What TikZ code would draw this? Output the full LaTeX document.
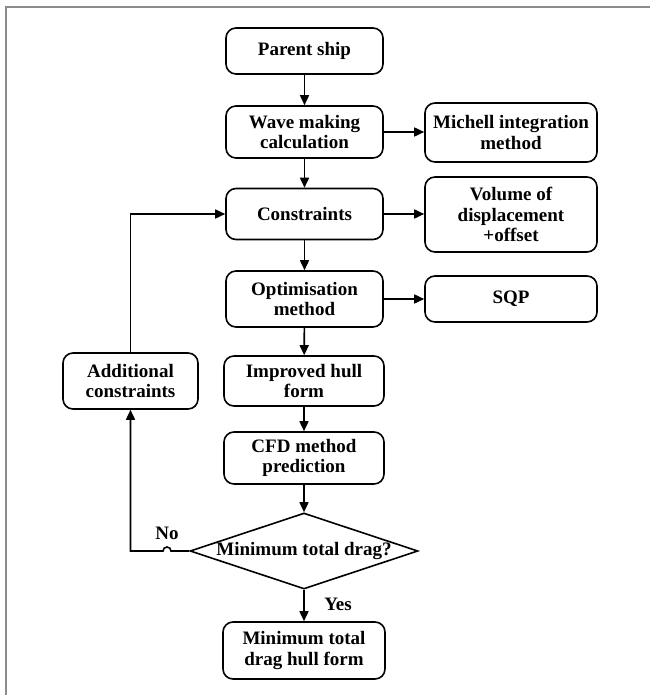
\documentclass[tikz,border=0pt]{standalone}
\usepackage{fontspec}
\setmainfont{Liberation Serif}
\usetikzlibrary{arrows.meta,shapes.geometric}
\tikzset{
  box/.style={draw, line width=1.6pt, rounded corners=10pt, align=center, inner sep=0pt,
    font=\fontsize{19}{20.5}\selectfont\bfseries},
  mainbox/.style={box, minimum width=157pt},
  sidebox/.style={box, minimum width=172pt},
  conn/.style={line width=1.6pt, -{Triangle[length=10pt,width=9pt]}},
  lbl/.style={font=\fontsize{19}{20.5}\selectfont\bfseries, inner sep=0pt},
  frameline/.style={draw=black!45, line width=2pt}
}
\begin{document}
\begin{tikzpicture}[x=1pt,y=-1pt]
\useasboundingbox (0,0) rectangle (650,695);
\draw[frameline] (6,695) -- (6,7) -- (650,7);

\node[mainbox, minimum height=46pt] (parent) at (304.5,51) {Parent ship};
\node[mainbox, minimum height=52pt] (wave) at (304.5,132) {Wave making\\calculation};
\node[sidebox, minimum height=59pt] (michell) at (511,132.5) {Michell integration\\method};
\node[mainbox, minimum height=51pt] (constr) at (304.5,214) {Constraints};
\node[sidebox, minimum height=75pt] (volume) at (511,214.5) {Volume of\\displacement\\+offset};
\node[mainbox, minimum height=56pt] (optim) at (304.5,299) {Optimisation\\method};
\node[sidebox, minimum height=46pt] (sqp) at (511,299) {SQP};
\node[box, minimum width=135pt, minimum height=56pt] (addl) at (130.5,381) {Additional\\constraints};
\node[box, minimum width=160pt, minimum height=50pt] (improved) at (304,381) {Improved hull\\form};
\node[box, minimum width=160pt, minimum height=52pt] (cfd) at (304,458) {CFD method\\prediction};
\node[draw, diamond, aspect=3, line width=1.6pt, inner sep=0pt, minimum width=228pt, minimum height=76pt,
  font=\fontsize{19}{20.5}\selectfont\bfseries] (dec) at (304,551) {Minimum total drag?};
\node[box, minimum width=162pt, minimum height=57pt] (final) at (304,650.5) {Minimum total\\drag hull form};

\node[lbl] (nolbl) at (167,533) {No};
\node[lbl] (yeslbl) at (338,604) {Yes};

\draw[conn] (parent) -- (wave);
\draw[conn] (wave) -- (constr);
\draw[conn] (constr) -- (optim);
\draw[conn] (optim) -- (improved);
\draw[conn] (improved) -- (cfd);
\draw[conn] (cfd) -- (dec);
\draw[conn] (dec) -- (final);
\draw[conn] (wave.east) -- (wave.east -| michell.west);
\draw[conn] (constr.east) -- (constr.east -| volume.west);
\draw[conn] (optim.east) -- (optim.east -| sqp.west);

\coordinate (hopR) at (171,551);
\coordinate (nocorner) at (addl.south |- dec.west);
\draw[conn] (dec.west) -- (hopR) arc[start angle=0, end angle=180, radius=4pt] -- (nocorner) -- (addl.south);
\coordinate (upcorner) at (addl.north |- constr.west);
\draw[conn] (addl.north) -- (upcorner) -- (constr.west);
\end{tikzpicture}
\end{document}
